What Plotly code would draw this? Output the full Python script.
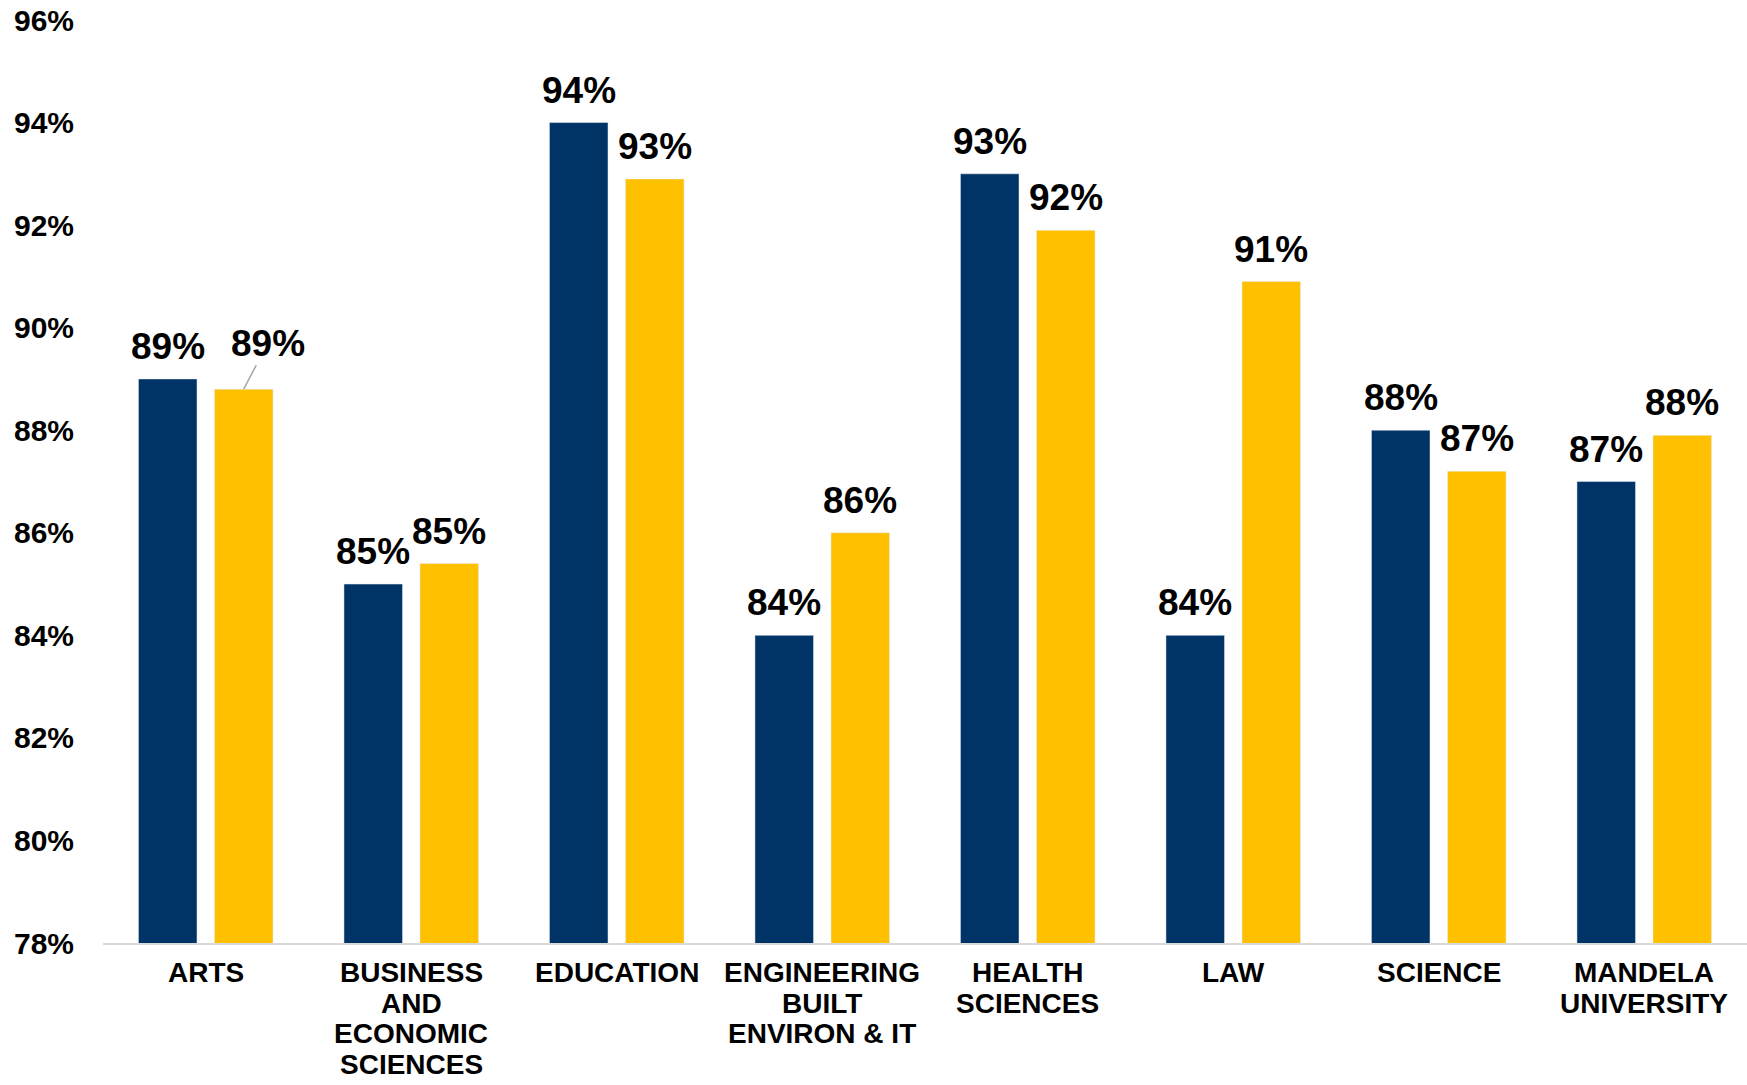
import plotly.graph_objects as go

categories = ["ARTS", "BUSINESS<br>AND<br>ECONOMIC<br>SCIENCES", "EDUCATION",
              "ENGINEERING<br>BUILT<br>ENVIRON & IT", "HEALTH<br>SCIENCES", "LAW",
              "SCIENCE", "MANDELA<br>UNIVERSITY"]
series_a = [89, 85, 94, 84, 93, 84, 88, 87]          # navy
series_b = [88.8, 85.4, 92.9, 86.0, 91.9, 90.9, 87.2, 87.9]  # gold
tick_vals = [78, 80, 82, 84, 86, 88, 90, 92, 94, 96]
tick_text = [f"{v}%" for v in tick_vals]

NAVY = "#003366"
GOLD = "#FFC000"
FONT = "Liberation Sans, Arial, sans-serif"

fig = go.Figure()
fig.add_trace(go.Bar(x=categories, y=series_a, marker_color=NAVY, name="A",
                     base=0))
fig.add_trace(go.Bar(x=categories, y=series_b, marker_color=GOLD, name="B",
                     base=0))

annotations = []
OFF = 38
lab_font = dict(family=FONT, size=37, color="black", weight="bold")
cat_font = dict(family=FONT, size=28, color="black", weight="bold")
for i, c in enumerate(categories):
    annotations.append(dict(x=c, y=series_a[i], xref="x", yref="y",
                            text=f"{round(series_a[i])}%", showarrow=False,
                            xshift=-OFF, yshift=10, yanchor="bottom", font=lab_font))
    if i == 0:
        annotations.append(dict(x=c, y=series_b[i], xref="x", yref="y",
                                text=f"{round(series_b[i])}%", showarrow=True,
                                arrowhead=0, arrowwidth=1.5, arrowcolor="#A6A6A6",
                                ax=24, ay=-46, xshift=OFF, font=lab_font))
    else:
        annotations.append(dict(x=c, y=series_b[i], xref="x", yref="y",
                                text=f"{round(series_b[i])}%", showarrow=False,
                                xshift=OFF, yshift=10, yanchor="bottom", font=lab_font))
    # category label, one annotation per line for tighter line spacing
    for k, line in enumerate(c.split("<br>")):
        annotations.append(dict(x=c, y=0, xref="x", yref="paper", text=line,
                                showarrow=False, yanchor="top", xanchor="center",
                                borderpad=0, yshift=-13 - 30.5 * k, font=cat_font))

fig.update_layout(
    width=1747, height=1085,
    margin=dict(l=103, r=0, t=20, b=142, pad=0),
    plot_bgcolor="white", paper_bgcolor="white",
    showlegend=False,
    barmode="group", bargap=0.26, bargroupgap=0.23,
    annotations=annotations,
    xaxis=dict(showline=True, linecolor="#D9D9D9", linewidth=2, automargin=False,
               showticklabels=False, ticks="", showgrid=False, fixedrange=True),
    yaxis=dict(range=[78, 96], tickmode="array", tickvals=tick_vals, ticktext=tick_text,
               showgrid=False, zeroline=False, showline=False, ticks="", automargin=False,
               ticklabelstandoff=28,
               tickfont=dict(family=FONT, size=30, color="black", weight="bold")),
)

fig.write_html("out.html")
